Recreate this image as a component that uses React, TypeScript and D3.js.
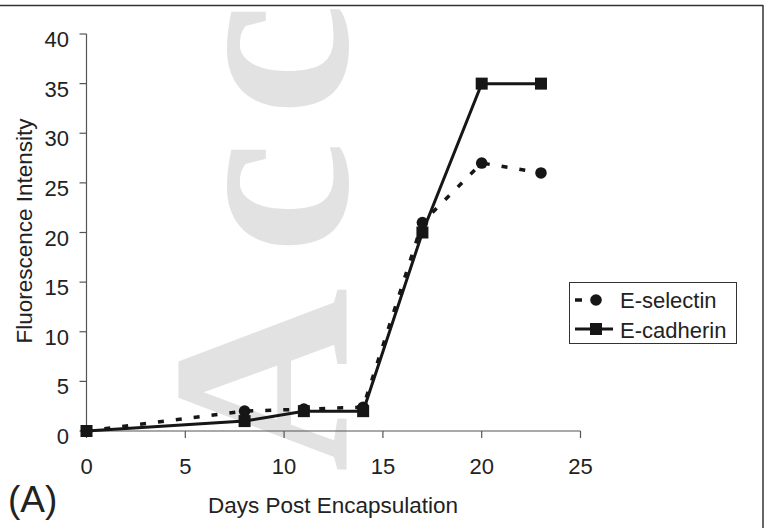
import React from "react";
import * as d3 from "d3";

const days = [0, 8, 11, 14, 17, 20, 23];
const eSelectin = [0, 2, 2.2, 2.4, 21, 27, 26];
const eCadherin = [0, 1, 2, 2, 20, 35, 35];
const xTicks = [0, 5, 10, 15, 20, 25];
const yTicks = [0, 5, 10, 15, 20, 25, 30, 35, 40];
const seriesNames = ["E-selectin", "E-cadherin"];
const watermark = ["A", "c", "c"];

const W = 764;
const H = 528;
const FONT = "'Liberation Sans', Arial, sans-serif";

export default function App() {
  const x = d3.scaleLinear().domain([0, 25]).range([86.5, 580.5]);
  const y = d3.scaleLinear().domain([0, 40]).range([431, 34]);
  const line = d3
    .line<number>()
    .x((_, i) => x(days[i]))
    .y((d) => y(d));

  const axisColor = "#555";
  const ink = "#161616";
  const wmStarts = [472, 254, 116];

  return (
    <svg
      width={W}
      height={H}
      style={{ position: "absolute", left: 0, top: 0, background: "#fff" }}
      fontFamily={FONT}
    >
      <rect x={0} y={0} width={W} height={H} fill="#fff" />
      {watermark.map((ch, i) => (
        <text
          key={i}
          transform={`translate(347,${wmStarts[i]}) rotate(-90)`}
          fontFamily="'Liberation Serif', 'Times New Roman', serif"
          fontWeight="bold"
          fontSize={255}
          fill="#e2e2e2"
        >
          {ch}
        </text>
      ))}
      <line x1={0} x2={763} y1={5.5} y2={5.5} stroke="#333" strokeWidth={1.5} />
      <line x1={763} x2={763} y1={5} y2={H} stroke="#333" strokeWidth={1.5} />

      <line x1={x(0)} x2={x(0)} y1={y(40)} y2={y(0)} stroke={axisColor} strokeWidth={1.2} />
      <line x1={x(0)} x2={x(25)} y1={y(0)} y2={y(0)} stroke={axisColor} strokeWidth={1.2} />
      {yTicks.map((t) => (
        <g key={"y" + t}>
          <line x1={x(0) - 7} x2={x(0)} y1={y(t)} y2={y(t)} stroke={axisColor} strokeWidth={1.2} />
          <text x={69} y={y(t) + 13} textAnchor="end" fontSize={22} fill="#222">
            {t}
          </text>
        </g>
      ))}
      {xTicks.map((t) => (
        <g key={"x" + t}>
          <line x1={x(t)} x2={x(t)} y1={y(0)} y2={y(0) + 7} stroke={axisColor} strokeWidth={1.2} />
          <text x={x(t)} y={474} textAnchor="middle" fontSize={22} fill="#222">
            {t}
          </text>
        </g>
      ))}

      <text x={333} y={513} textAnchor="middle" fontSize={22.5} fill="#222">
        Days Post Encapsulation
      </text>
      <text
        transform="translate(32,231) rotate(-90)"
        textAnchor="middle"
        fontSize={22.5}
        fill="#222"
      >
        Fluorescence Intensity
      </text>
      <text x={8} y={511.5} fontSize={37} fill="#222">
        (A)
      </text>

      <path
        d={line(eSelectin) || ""}
        fill="none"
        stroke={ink}
        strokeWidth={3.5}
        strokeDasharray="6,12"
      />
      {eSelectin.map((v, i) => (
        <circle key={"s" + i} cx={x(days[i])} cy={y(v)} r={5.8} fill={ink} />
      ))}
      <path d={line(eCadherin) || ""} fill="none" stroke={ink} strokeWidth={3} />
      {eCadherin.map((v, i) => (
        <rect key={"c" + i} x={x(days[i]) - 6} y={y(v) - 6} width={12} height={12} fill={ink} />
      ))}

      <rect x={569.5} y={282.5} width={167} height={61} fill="#fff" stroke="#333" strokeWidth={1} />
      <line x1={575} x2={582} y1={300} y2={300} stroke={ink} strokeWidth={3.5} />
      <circle cx={596} cy={300} r={5.8} fill={ink} />
      <text x={620} y={308} fontSize={22} fill="#222">
        {seriesNames[0]}
      </text>
      <line x1={575} x2={613} y1={329} y2={329} stroke={ink} strokeWidth={3} />
      <rect x={590} y={323} width={12} height={12} fill={ink} />
      <text x={620} y={338} fontSize={22} fill="#222">
        {seriesNames[1]}
      </text>
    </svg>
  );
}
